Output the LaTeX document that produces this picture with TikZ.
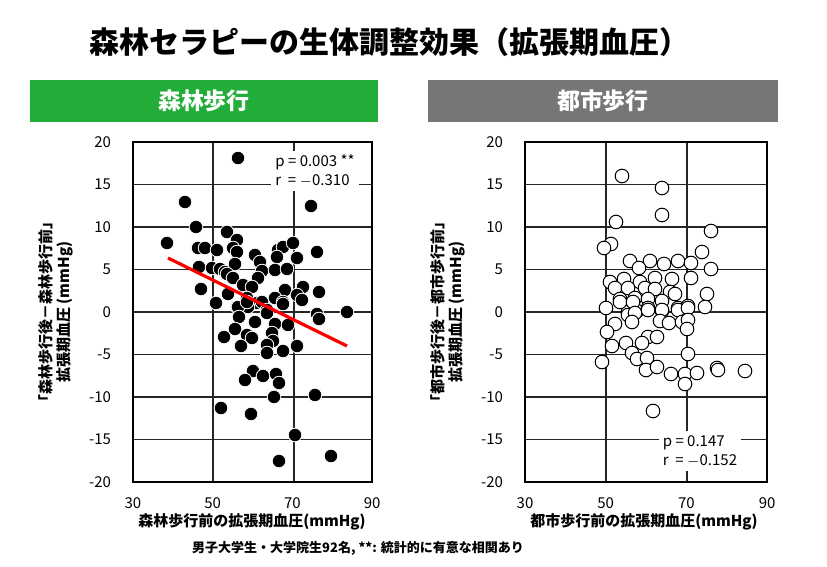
\documentclass[tikz,border=0pt]{standalone}
\usepackage{fontspec}
\setmainfont{Noto Sans CJK JP}
\newfontfamily\jpb{Noto Sans CJK JP}[FakeBold=0]
\begin{document}
\begin{tikzpicture}[x=0.5pt,y=-0.5pt,
 grid/.style={line width=0.6pt,black!85},
 box/.style={line width=1pt},
 fdot/.style={fill=black,draw=white,line width=0.4pt},
 odot/.style={fill=white,draw=black,line width=0.5pt},
 tick/.style={font=\fontsize{7.5}{8}\selectfont},
 lab/.style={font=\fontsize{7.5}{9}\selectfont\bfseries},
 stat/.style={font=\fontsize{7.5}{9.5}\selectfont,fill=white,align=left,inner sep=2pt}]
\useasboundingbox (0,0) rectangle (827,567);
\node[font=\fontsize{15}{16}\selectfont\bfseries] (title) at (390,42) {森林セラピーの生体調整効果（拡張期血圧）};
\node[fill={rgb,255:red,34;green,172;blue,56},minimum width=174pt,minimum height=21pt,text=white,font=\fontsize{11.5}{12}\selectfont\bfseries] (b1) at (204,101) {森林歩行};
\node[fill={rgb,255:red,118;green,118;blue,118},minimum width=175pt,minimum height=21pt,text=white,font=\fontsize{11.5}{12}\selectfont\bfseries] (b2) at (603,101) {都市歩行};
% left plot
\foreach \k in {1,...,7} \draw[grid] (133,142+42.5*\k) -- (372,142+42.5*\k);
\draw[grid] (213,142) -- (213,482); \draw[grid] (294,142) -- (294,482);
\foreach \v [count=\i from 0] in {20,15,10,5,0,-5,-10,-15,-20} \node[tick,anchor=east] at (118,142+42.5*\i) {\v};
\foreach \v [count=\i from 0] in {30,50,70,90} \node[tick] at (133+79.7*\i,503) {\v};
\node[stat] (s1) at (315,171) {p = 0.003 **\\r \ = $-$0.310};
\foreach \p in {(238,158),(185,202),(311,206),(196,227),(167,243),(198,248),(205,248),(217,250),(227,232),(237,240),(233,248),(237,252),(255,255),(260,262),(278,250),(283,247),(293,243),(277,257),(297,258),(317,252),(199,267),(212,268),(220,269),(225,272),(235,264),(227,274),(233,278),(262,271),(275,270),(287,269),(258,278),(243,285),(252,287),(201,289),(228,294),(247,298),(257,303),(262,302),(285,290),(303,287),(297,295),(319,292),(216,303),(237,307),(248,307),(275,298),(283,302),(267,310),(238,307),(247,302),(267,313),(283,304),(302,300),(317,314),(319,319),(347,312),(239,317),(255,322),(275,324),(288,325),(235,329),(224,337),(247,335),(252,338),(272,333),(273,341),(241,346),(267,345),(267,353),(283,351),(297,346),(253,371),(263,376),(245,380),(276,374),(279,383),(274,397),(315,395),(221,408),(251,414),(295,435),(279,461),(331,456)}
 \fill[fdot] \p circle (6.8);
\draw[red,line width=1.6pt] (168,258) -- (347,346);
\draw[box] (133,142) rectangle (372,482);
\node[lab] (xl1) at (252,522) {森林歩行前の拡張期血圧(mmHg)};
\node[lab,rotate=90,align=center] (yl1) at (56,312) {「森林歩行後－森林歩行前」\\拡張期血圧 (mmHg)};
% right plot
\foreach \k in {1,...,7} \draw[grid] (525,142+42.5*\k) -- (767,142+42.5*\k);
\draw[grid] (606,142) -- (606,482); \draw[grid] (687,142) -- (687,482);
\foreach \v [count=\i from 0] in {20,15,10,5,0,-5,-10,-15,-20} \node[tick,anchor=east] at (510,142+42.5*\i) {\v};
\foreach \v [count=\i from 0] in {30,50,70,90} \node[tick] at (525+80.7*\i,503) {\v};
\node[stat] (s2) at (700,451) {p = 0.147\\r \ = $-$0.152};
\foreach \p in {(622,176),(662,188),(662,215),(616,222),(711,231),(611,244),(604,248),(702,252),(630,261),(650,261),(678,261),(691,263),(664,264),(639,268),(711,269),(610,282),(624,279),(640,282),(655,278),(672,279),(691,278),(615,288),(628,288),(645,288),(655,289),(670,292),(675,294),(620,299),(635,298),(648,299),(662,301),(707,294),(606,308),(628,312),(637,311),(648,308),(662,311),(678,308),(688,306),(705,307),(620,302),(633,302),(628,315),(635,313),(648,310),(662,310),(678,310),(688,308),(615,324),(632,322),(660,321),(669,323),(682,322),(688,320),(607,332),(687,329),(648,337),(657,337),(626,343),(642,343),(612,346),(632,353),(688,354),(602,362),(637,359),(647,358),(646,370),(657,367),(671,374),(685,374),(697,373),(717,368),(718,370),(745,371),(685,384),(653,411)}
 \filldraw[odot] \p circle (6.8);
\draw[box] (525,142) rectangle (767,482);
\node[lab] (xl2) at (644,522) {都市歩行前の拡張期血圧(mmHg)};
\node[lab,rotate=90,align=center] (yl2) at (448,312) {「都市歩行後－都市歩行前」\\拡張期血圧 (mmHg)};
\node[font=\fontsize{6.5}{7}\selectfont\bfseries] (foot) at (358,548) {男子大学生・大学院生92名, **: 統計的に有意な相関あり};
\end{tikzpicture}
\end{document}
